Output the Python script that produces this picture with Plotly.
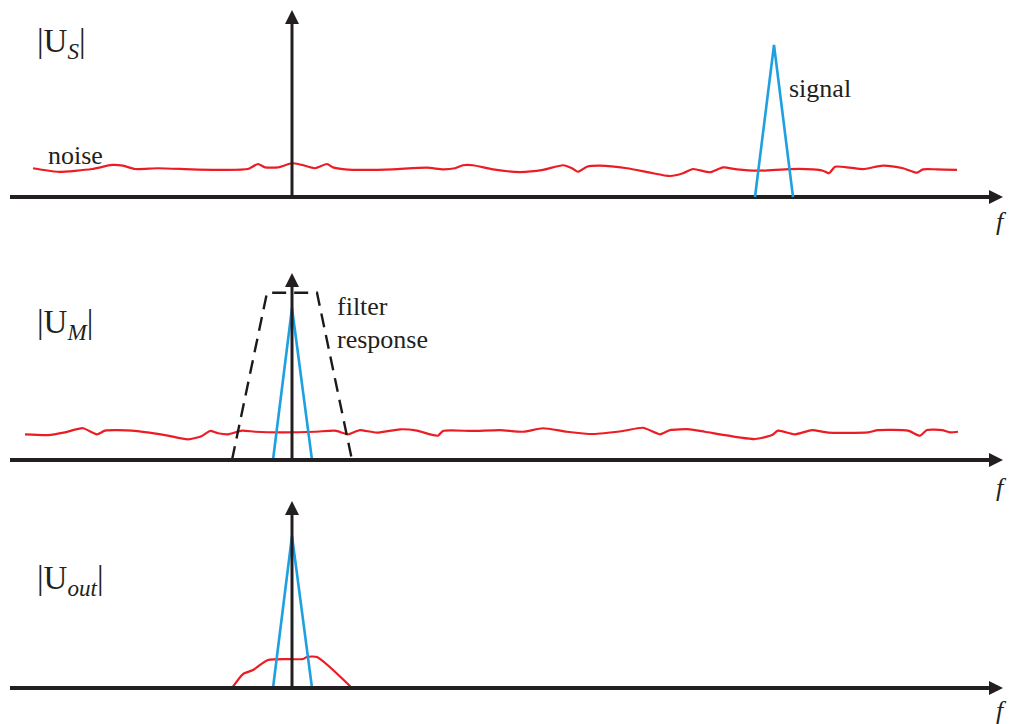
import plotly.graph_objects as go

# ---- frequency axis (arbitrary units, f = 0 at the vertical axis) ----
F_RANGE = [-2.92, 7.19]
F_AXIS_START = -2.82
F_AXIS_TIP = 7.11
AMP_AXIS_TIP = 1.23

# ---- |U_S| : wide-band noise plus the signal line at f_s ----
noise_s_f = [-2.59, -2.34, -2.00, -1.80, -1.69, -1.57, -1.34, -1.00, -0.67, -0.44,
             -0.34, -0.27, -0.14, 0.00, 0.10, 0.23, 0.35, 0.41, 0.53, 0.73,
             1.01, 1.35, 1.51, 1.63, 1.71, 1.81, 2.01, 2.28, 2.51, 2.71,
             2.80, 2.86, 2.95, 3.08, 3.35, 3.58, 3.78, 3.91, 4.01, 4.18,
             4.31, 4.45, 4.65, 4.98, 5.21, 5.31, 5.37, 5.43, 5.58, 5.71,
             5.91, 6.11, 6.25, 6.31, 6.45, 6.65]
noise_s_a = [0.189, 0.166, 0.184, 0.211, 0.206, 0.184, 0.189, 0.182, 0.178, 0.184,
             0.217, 0.195, 0.195, 0.222, 0.211, 0.189, 0.217, 0.195, 0.182, 0.178,
             0.182, 0.193, 0.182, 0.189, 0.209, 0.209, 0.182, 0.164, 0.178, 0.209,
             0.189, 0.166, 0.199, 0.206, 0.189, 0.160, 0.138, 0.156, 0.184, 0.163,
             0.195, 0.182, 0.173, 0.184, 0.182, 0.173, 0.156, 0.199, 0.193, 0.184,
             0.206, 0.189, 0.160, 0.182, 0.182, 0.178]
signal_s_f = [4.63, 4.82, 5.01]
signal_s_a = [0.0, 1.0, 0.0]

# ---- |U_M| : after mixing, the signal sits at f = 0 ----
noise_m_f = [-2.67, -2.44, -2.27, -2.09, -1.95, -1.87, -1.60, -1.27, -1.04, -0.90,
             -0.82, -0.74, -0.64, -0.50, -0.37, -0.10, 0.23, 0.43, 0.56, 0.63,
             0.68, 0.85, 1.08, 1.25, 1.38, 1.46, 1.51, 1.81, 2.08, 2.31,
             2.51, 2.75, 3.01, 3.31, 3.51, 3.68, 3.78, 3.98, 4.13, 4.63,
             4.80, 4.86, 5.03, 5.20, 5.36, 5.76, 5.86, 6.16, 6.28, 6.35,
             6.50, 6.58, 6.66]
noise_m_a = [0.169, 0.164, 0.182, 0.209, 0.169, 0.193, 0.193, 0.164, 0.136, 0.158,
             0.191, 0.176, 0.169, 0.193, 0.186, 0.182, 0.186, 0.193, 0.169, 0.186,
             0.197, 0.180, 0.202, 0.193, 0.169, 0.160, 0.191, 0.191, 0.197, 0.186,
             0.209, 0.186, 0.171, 0.191, 0.212, 0.169, 0.197, 0.202, 0.186, 0.138,
             0.164, 0.193, 0.169, 0.197, 0.180, 0.182, 0.197, 0.193, 0.160, 0.197,
             0.197, 0.182, 0.186]
signal_m_f = [-0.19, 0.0, 0.20]
signal_m_a = [0.0, 1.0, 0.0]
filter_f = [-0.60, -0.25, 0.25, 0.60]
filter_a = [0.0, 1.10, 1.10, 0.0]

# ---- |U_out| : only the noise inside the filter pass band remains ----
noise_out_f = [-0.60, -0.49, -0.39, -0.24, 0.11, 0.15, 0.25, 0.60]
noise_out_a = [0.0, 0.092, 0.118, 0.184, 0.191, 0.204, 0.204, 0.0]
signal_out_f = [-0.19, 0.0, 0.20]
signal_out_a = [0.0, 1.0, 0.0]

# ---- styling ----
W, H = 1011, 724
PX_PER_AMP = 152.0
RED = "#ec1c24"
BLUE = "#1ea0e1"
INK = "#231f20"
SERIF = "Liberation Serif"
ARROW = 14

# panel pixel bands (top, bottom) and baseline rows
panels = [
    dict(top=0, bottom=245, base=197),
    dict(top=245, bottom=500, base=460),
    dict(top=500, bottom=724, base=688),
]

fig = go.Figure()


def axref(i):
    return ("x", "y") if i == 0 else (f"x{i + 1}", f"y{i + 1}")


def add_axes(i):
    xr, yr = axref(i)
    back_f = ARROW / 100.0 * 0.5
    back_a = ARROW / PX_PER_AMP * 0.5
    # horizontal frequency axis
    fig.add_trace(go.Scatter(x=[F_AXIS_START, F_AXIS_TIP - back_f], y=[0, 0], mode="lines",
                             line=dict(color=INK, width=4), xaxis=xr, yaxis=yr,
                             hoverinfo="skip", showlegend=False))
    fig.add_trace(go.Scatter(x=[F_AXIS_TIP], y=[0], mode="markers",
                             marker=dict(symbol="arrow-right", size=ARROW, color=INK,
                                         line=dict(width=0)),
                             cliponaxis=False, xaxis=xr, yaxis=yr,
                             hoverinfo="skip", showlegend=False))
    # vertical magnitude axis
    fig.add_trace(go.Scatter(x=[0, 0], y=[0, AMP_AXIS_TIP - back_a], mode="lines",
                             line=dict(color=INK, width=3), xaxis=xr, yaxis=yr,
                             hoverinfo="skip", showlegend=False))
    fig.add_trace(go.Scatter(x=[0], y=[AMP_AXIS_TIP], mode="markers",
                             marker=dict(symbol="arrow-up", size=ARROW, color=INK,
                                         line=dict(width=0)),
                             cliponaxis=False, xaxis=xr, yaxis=yr,
                             hoverinfo="skip", showlegend=False))


def add_line(i, f, a, color, width, dash="solid", shape="linear"):
    xr, yr = axref(i)
    fig.add_trace(go.Scatter(x=f, y=a, mode="lines",
                             line=dict(color=color, width=width, dash=dash, shape=shape,
                                       smoothing=0.6 if shape == "spline" else None),
                             xaxis=xr, yaxis=yr, hoverinfo="skip", showlegend=False,
                             cliponaxis=False))


# panel 1
add_line(0, noise_s_f, noise_s_a, RED, 2.2, shape="spline")
add_axes(0)
add_line(0, signal_s_f, signal_s_a, BLUE, 2.6)

# panel 2
add_line(1, noise_m_f, noise_m_a, RED, 2.2, shape="spline")
add_line(1, filter_f, filter_a, "#1a1a1a", 2.4, dash="14px,8px")
add_line(1, signal_m_f, signal_m_a, BLUE, 2.6)
add_axes(1)

# panel 3
add_line(2, noise_out_f, noise_out_a, RED, 2.2, shape="spline")
add_line(2, signal_out_f, signal_out_a, BLUE, 2.6)
add_axes(2)

layout = dict(
    width=W, height=H,
    margin=dict(l=0, r=0, t=0, b=0),
    paper_bgcolor="white", plot_bgcolor="white",
    showlegend=False,
)
for i, p in enumerate(panels):
    sfx = "" if i == 0 else str(i + 1)
    lo = (p["base"] - p["bottom"]) / PX_PER_AMP
    hi = (p["base"] - p["top"]) / PX_PER_AMP
    layout["xaxis" + sfx] = dict(range=F_RANGE, domain=[0, 1], visible=False,
                                 anchor="y" + sfx, fixedrange=True)
    layout["yaxis" + sfx] = dict(range=[lo, hi],
                                 domain=[1 - p["bottom"] / H, 1 - p["top"] / H],
                                 visible=False, anchor="x" + sfx, fixedrange=True)
fig.update_layout(**layout)


def label(i, x, y, text, size, xanchor="left"):
    xr, yr = axref(i)
    fig.add_annotation(x=x, y=y, xref=xr, yref=yr, text=text, showarrow=False,
                       xanchor=xanchor, yanchor="middle",
                       font=dict(family=SERIF, size=size, color=INK))


label(0, -2.57, 1.01, "|U<sub><i>S</i></sub>|", 33)
label(1, -2.57, 0.89, "|U<sub><i>M</i></sub>|", 33)
label(2, -2.57, 0.71, "|U<sub><i>out</i></sub>|", 33)

label(0, -2.46, 0.27, "noise", 26)
label(0, 4.95, 0.717, "signal", 26)
label(1, 0.43, 1.013, "filter", 26)
label(1, 0.43, 0.796, "response", 26)

for i, y in enumerate([-0.164, -0.184, -0.15]):
    label(i, 7.09, y, "<i>f</i>", 26, xanchor="center")

fig.write_html("out.html")
